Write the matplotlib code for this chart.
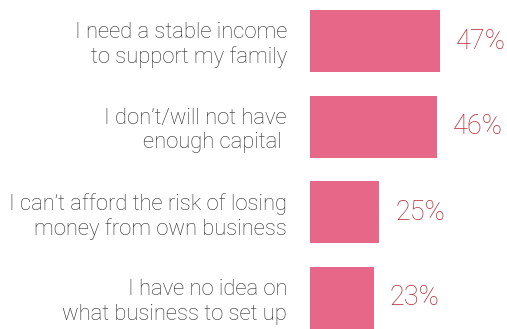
import matplotlib
matplotlib.use('Agg')
import matplotlib.pyplot as plt
import numpy as np

reasons = [
    "I need a stable income\nto support my family",
    "I don\u2019t/will not have\nenough capital ",
    "I can\u2019t afford the risk of losing\nmoney from own business",
    "I have no idea on\nwhat business to set up",
]
shares = [47, 46, 25, 23]

bar_color = '#E66787'
value_color = '#B82833'
label_color = '#2E2E2E'

plt.rcParams['font.family'] = ['Roboto', 'DejaVu Sans']

fig = plt.figure(figsize=(5.07, 3.29), dpi=100)
ax = fig.add_axes([310 / 507, 0, 1 - 310 / 507, 1])

y = np.arange(len(shares))
ax.barh(y, shares, height=0.724, color=bar_color)

for yi, v in zip(y, shares):
    ax.annotate(f"{v}%", xy=(v, yi), xytext=(11.5, 0), textcoords='offset points',
                ha='left', va='center', fontsize=19.5, color=value_color,
                fontweight='light')

ax.set_xlim(0, 71.25)
ax.set_ylim(3.362, -0.479)
ax.set_yticks(y)
ax.set_yticklabels(reasons, fontsize=15.8, color=label_color, fontweight='light',
                   linespacing=1.2)
ax.tick_params(axis='y', length=0, pad=16.5)
ax.set_xticks([])
for s in ax.spines.values():
    s.set_visible(False)

fig.savefig('out.png', dpi=100)
